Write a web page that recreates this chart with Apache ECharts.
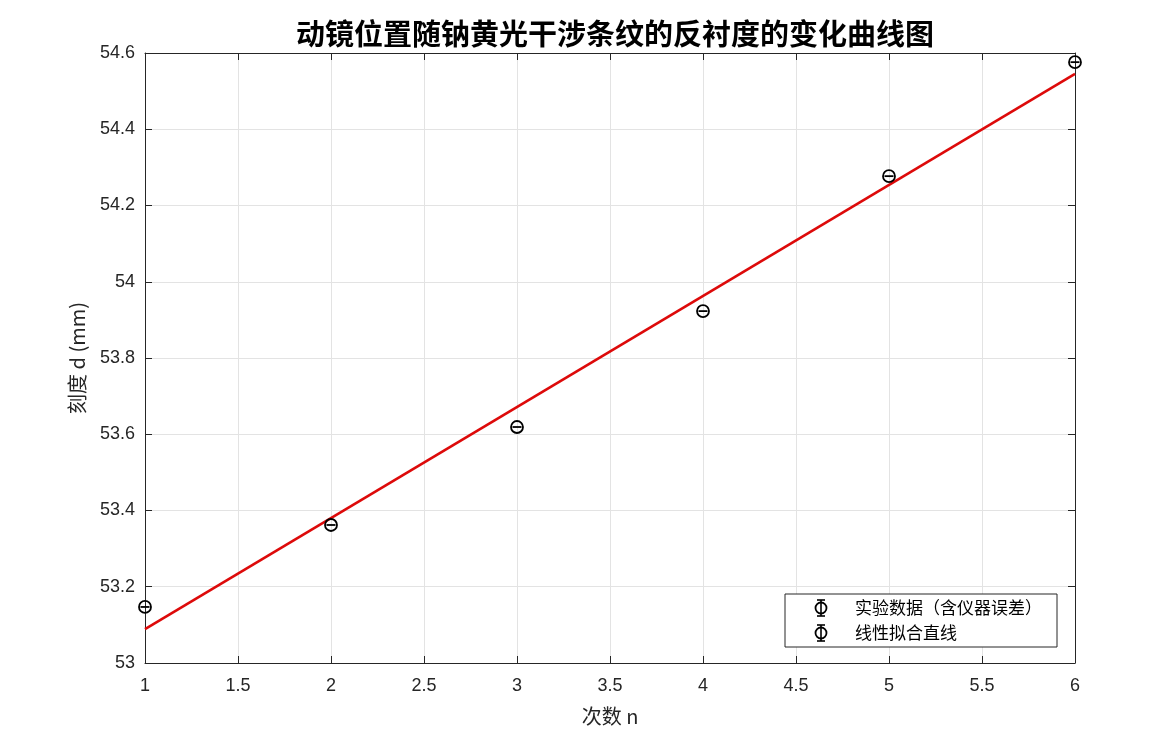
<!DOCTYPE html>
<html><head><meta charset="utf-8">
<script src="https://cdn.jsdelivr.net/npm/echarts@6/dist/echarts.min.js"></script>
<style>html,body{margin:0;padding:0;background:#fff}#c{width:1155px;height:738px}</style>
</head><body><div id="c"></div>
<script>
const nValues = [1, 2, 3, 4, 5, 6];
const dValues = [53.147, 53.362, 53.619, 53.923, 54.277, 54.576];
const fitLine = [[1, 53.089], [6, 54.545]];
const titleText = '动镜位置随钠黄光干涉条纹的反衬度的变化曲线图';
const seriesNames = ['实验数据（含仪器误差）', '线性拟合直线'];

const chart = echarts.init(document.getElementById('c'));
const tickFont = {fontFamily: 'Liberation Sans, Arial, sans-serif', fontSize: 18, color: '#262626'};
const axisCommon = {
  axisLine: {show: true, onZero: false, lineStyle: {color: '#262626', width: 1}},
  axisTick: {show: true, inside: true, length: 7, lineStyle: {color: '#262626'}},
};
function errIcon(x, y) {
  const s = {stroke: '#000', lineWidth: 1.6, fill: 'none'};
  return [
    {type: 'line', z: 20, shape: {x1: x, y1: y - 8, x2: x, y2: y + 8}, style: s},
    {type: 'line', z: 20, shape: {x1: x - 4, y1: y - 8, x2: x + 4, y2: y - 8}, style: s},
    {type: 'line', z: 20, shape: {x1: x - 4, y1: y + 8, x2: x + 4, y2: y + 8}, style: s},
    {type: 'circle', z: 20, shape: {cx: x, cy: y, r: 5.5}, style: {fill: 'none', stroke: '#000', lineWidth: 1.8}}
  ];
}
chart.setOption({
  animation: false,
  backgroundColor: '#fff',
  title: {text: titleText, left: 610, top: 14, textAlign: 'center',
    textStyle: {fontFamily: 'Noto Sans CJK SC', fontWeight: 'bold', fontSize: 29, color: '#000'}},
  grid: {left: 145, right: 80, top: 53, bottom: 75},
  xAxis: [
    Object.assign({type: 'value', min: 1, max: 6, interval: 0.5, position: 'bottom',
      name: '次数 n', nameLocation: 'middle', nameGap: 43,
      nameTextStyle: {fontFamily: 'Noto Sans CJK SC', fontSize: 20, color: '#262626'},
      axisLabel: Object.assign({margin: 14}, tickFont),
      splitLine: {show: true, lineStyle: {color: '#e3e3e3', width: 1}}}, axisCommon),
    Object.assign({type: 'value', min: 1, max: 6, interval: 0.5, position: 'top',
      axisLabel: {show: false}, splitLine: {show: false}}, axisCommon)
  ],
  yAxis: [
    Object.assign({type: 'value', min: 53, max: 54.6, interval: 0.2, position: 'left',
      name: '刻度 d (mm)', nameLocation: 'middle', nameGap: 58, nameRotate: 90,
      nameTextStyle: {fontFamily: 'Noto Sans CJK SC', fontSize: 20, color: '#262626'},
      axisLabel: Object.assign({margin: 10, formatter: v => String(+v.toFixed(1))}, tickFont),
      splitLine: {show: true, lineStyle: {color: '#e3e3e3', width: 1}}}, axisCommon),
    Object.assign({type: 'value', min: 53, max: 54.6, interval: 0.2, position: 'right',
      axisLabel: {show: false}, splitLine: {show: false}}, axisCommon)
  ],
  series: [
    {name: seriesNames[1], type: 'line', data: fitLine, symbol: 'none',
      lineStyle: {color: '#dd0a0a', width: 2.6}, z: 3, clip: false},
    {name: seriesNames[0], type: 'custom', z: 4, clip: false,
      data: nValues.map((n, i) => [n, dValues[i]]),
      renderItem: function (params, api) {
        const p = api.coord([api.value(0), api.value(1)]);
        return {type: 'group', children: [
          {type: 'circle', shape: {cx: p[0], cy: p[1], r: 6}, style: {fill: 'none', stroke: '#000', lineWidth: 1.8}},
          {type: 'line', shape: {x1: p[0] - 4.5, y1: p[1], x2: p[0] + 4.5, y2: p[1]}, style: {stroke: '#000', lineWidth: 1.8}}
        ]};
      }}
  ],
  graphic: [
    {type: 'rect', shape: {x: 785, y: 594, width: 272, height: 53}, style: {fill: '#fff', stroke: '#262626', lineWidth: 1}, z: 10}
  ].concat(errIcon(821, 608), errIcon(821, 633), [
    {type: 'text', x: 855, y: 608, z: 20, style: {text: seriesNames[0], fontFamily: 'Noto Sans CJK SC', fontSize: 17, fill: '#000', verticalAlign: 'middle'}},
    {type: 'text', x: 855, y: 633, z: 20, style: {text: seriesNames[1], fontFamily: 'Noto Sans CJK SC', fontSize: 17, fill: '#000', verticalAlign: 'middle'}}
  ])
});
</script></body></html>
